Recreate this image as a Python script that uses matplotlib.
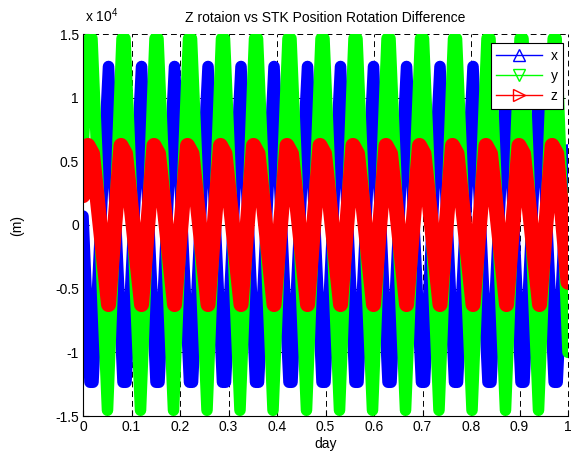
import matplotlib
matplotlib.use("Agg")
import matplotlib.pyplot as plt
from matplotlib.lines import Line2D

plt.rcParams['font.family'] = ['Liberation Sans', 'DejaVu Sans']
plt.rcParams['mathtext.default'] = 'regular'

# digitized vertices (day, metres)
x_t = [0.0, 0.0144, 0.0206, 0.0526, 0.0825, 0.0887, 0.1207, 0.1505, 0.1567, 0.1887,
       0.2196, 0.2258, 0.2578, 0.2876, 0.2938, 0.3258, 0.3557, 0.3619, 0.3939,
       0.4247, 0.4309, 0.4629, 0.4928, 0.4990, 0.5310, 0.5608, 0.5670, 0.5990,
       0.6289, 0.6351, 0.6671, 0.6979, 0.7041, 0.7361, 0.7660, 0.7722, 0.8042,
       0.8350, 0.8412, 0.8732, 0.9031, 0.9093, 0.9413, 0.9715, 0.9777, 1.0]
x_v = [700, -12350, -12350, 12450, -12350, -12350, 12450, -12350, -12350, 12450,
       -12350, -12350, 12450, -12350, -12350, 12450, -12350, -12350, 12450,
       -12350, -12350, 12450, -12350, -12350, 12450, -12350, -12350, 12450,
       -12350, -12350, 12450, -12350, -12350, 12450, -12350, -12350, 12450,
       -12350, -12350, 12450, -12350, -12350, 12450, -12350, -12350, 5900]

y_t = [0.0, 0.0124, 0.0185, 0.0505, 0.0805, 0.0866, 0.1186, 0.1485, 0.1546, 0.1866,
       0.2176, 0.2237, 0.2557, 0.2856, 0.2917, 0.3237, 0.3537, 0.3598, 0.3918,
       0.4227, 0.4288, 0.4608, 0.4908, 0.4969, 0.5289, 0.5588, 0.5649, 0.5969,
       0.6269, 0.6330, 0.6650, 0.6959, 0.7020, 0.7340, 0.7640, 0.7701, 0.8021,
       0.8330, 0.8391, 0.8711, 0.9011, 0.9072, 0.9392, 0.9695, 0.9756, 1.0]
y_v = [6000, 14650, 14650, -14550, 14650, 14650, -14550, 14650, 14650, -14550,
       14650, 14650, -14550, 14650, 14650, -14550, 14650, 14650, -14550,
       14650, 14650, -14550, 14650, 14650, -14550, 14650, 14650, -14550,
       14650, 14650, -14550, 14650, 14650, -14550, 14650, 14650, -14550,
       14650, 14650, -14550, 14650, 14650, -14550, 14650, 14650, -10000]

z_t = [0.0, 0.0103, 0.0196, 0.0526, 0.0784, 0.0877, 0.1207, 0.1464, 0.1557, 0.1887,
       0.2155, 0.2248, 0.2578, 0.2835, 0.2928, 0.3258, 0.3516, 0.3609, 0.3939,
       0.4206, 0.4299, 0.4629, 0.4887, 0.4980, 0.5310, 0.5567, 0.5660, 0.5990,
       0.6248, 0.6341, 0.6671, 0.6938, 0.7031, 0.7361, 0.7619, 0.7712, 0.8042,
       0.8309, 0.8402, 0.8732, 0.8990, 0.9083, 0.9413, 0.9674, 0.9767, 1.0]
z_v = [2300, 6250, 5600, -6250, 6250, 5600, -6250, 6250, 5600, -6250,
       6250, 5600, -6250, 6250, 5600, -6250, 6250, 5600, -6250,
       6250, 5600, -6250, 6250, 5600, -6250, 6250, 5600, -6250,
       6250, 5600, -6250, 6250, 5600, -6250, 6250, 5600, -6250,
       6250, 5600, -6250, 6250, 5600, -6250, 6250, 5600, -4500]

labels = ['x', 'y', 'z']
colors = ['#0000ff', '#00ff00', '#ff0000']
markers = ['^', 'v', '>']
widths = [8.3, 8.3, 10.8]

xticks = [0, 0.1, 0.2, 0.3, 0.4, 0.5, 0.6, 0.7, 0.8, 0.9, 1]
xticklabels = ['0', '0.1', '0.2', '0.3', '0.4', '0.5', '0.6', '0.7', '0.8', '0.9', '1']
yticks = [-15000, -10000, -5000, 0, 5000, 10000, 15000]
yticklabels = ['-1.5', '-1', '-0.5', '0', '0.5', '1', '1.5']

fig = plt.figure(figsize=(5.72, 4.55), dpi=100)
ax = fig.add_axes([83/572, 39/455, 485/572, 382/455])

series = [(x_t, x_v), (y_t, y_v), (z_t, z_v)]
for (t, v), c, w in zip(series, colors, widths):
    ax.plot(t, v, color=c, lw=w, solid_joinstyle='round', solid_capstyle='round', zorder=3)

ax.set_xlim(0, 1)
ax.set_ylim(-15000, 15000)
ax.set_xticks(xticks)
ax.set_xticklabels(xticklabels)
ax.set_yticks(yticks)
ax.set_yticklabels(yticklabels)
ax.tick_params(direction='in', length=4, width=0.8, labelsize=10, colors='black', pad=3)

ax.spines['top'].set_visible(False)
ax.spines['right'].set_visible(False)
for s in ['left', 'bottom']:
    ax.spines[s].set_linewidth(0.8)
    ax.spines[s].set_zorder(5)

dash = (0, (6, 4))
for xv in xticks[1:]:
    ax.axvline(xv, color='black', lw=0.7, linestyle=dash, zorder=1, clip_on=False)
for yv in yticks[1:]:
    ax.axhline(yv, color='black', lw=0.7, linestyle=dash, zorder=1, clip_on=False)

ax.set_title('Z rotaion vs STK Position Rotation Difference', fontsize=10, pad=9)
ax.set_xlabel('day', fontsize=10, labelpad=2)
ax.set_ylabel('(m)', fontsize=10, labelpad=22)
fig.text(85/572, 1 - 22/455, r'x 10$^{4}$', fontsize=10, ha='left', va='baseline')

handles = [Line2D([0], [0], color=c, lw=1, marker=m, markersize=8,
                  markerfacecolor='none', markeredgecolor=c, markeredgewidth=1)
           for c, m in zip(colors, markers)]
leg = ax.legend(handles, labels, loc='upper right',
                bbox_to_anchor=((563-83)/485, (416-43)/382),
                fontsize=10, handlelength=3.3, handletextpad=0.6,
                labelspacing=0.45, borderpad=0.4, borderaxespad=0,
                fancybox=False, framealpha=1, edgecolor='black')
leg.get_frame().set_linewidth(0.8)
leg.set_zorder(10)

fig.savefig('out.png', dpi=100)
